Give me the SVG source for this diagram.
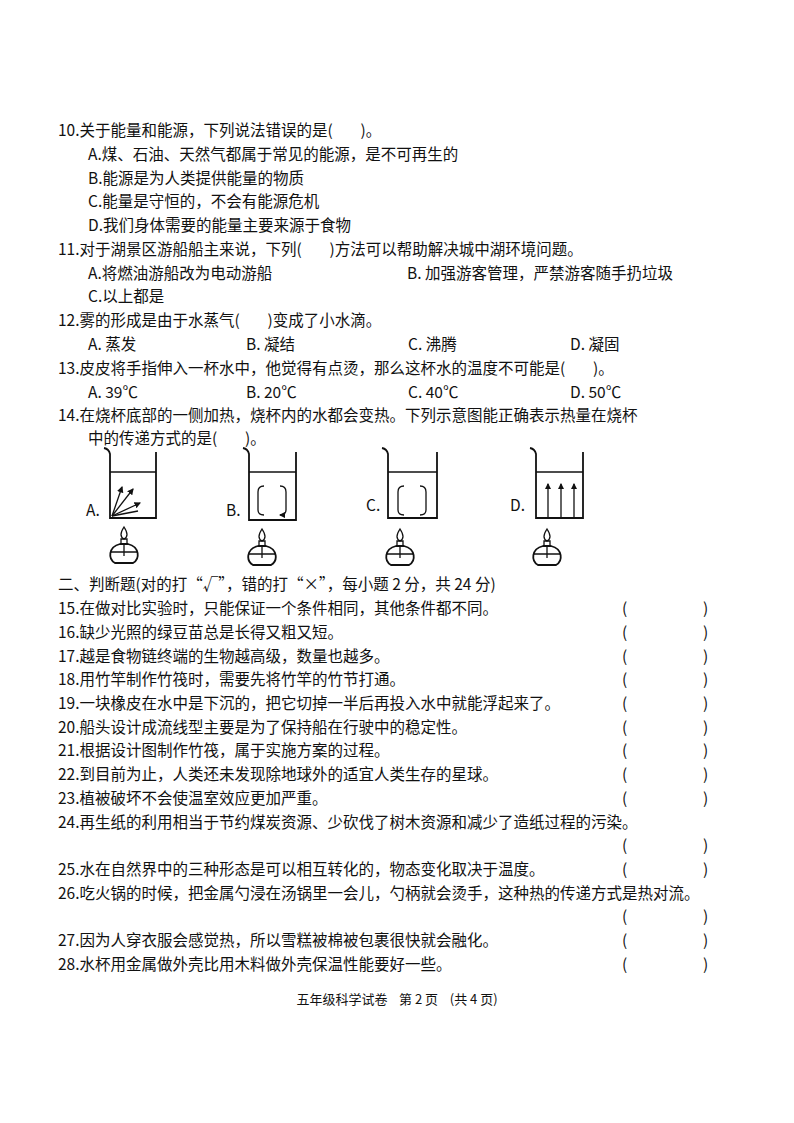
<svg xmlns="http://www.w3.org/2000/svg" width="794" height="1123" viewBox="0 0 794 1123">
<style>
text{font-family:"Noto Sans CJK SC","Liberation Serif",serif;font-size:15.5px;fill:#111;white-space:pre}
.f{font-size:13px}
.b{fill:none;stroke:#111;stroke-width:1.8}
.t{fill:none;stroke:#111;stroke-width:1.3}
</style>
<defs>
<marker id="ah" viewBox="0 0 6 6" refX="5" refY="3" markerWidth="5" markerHeight="5" orient="auto"><path d="M0,0L6,3L0,6z" fill="#111"/></marker>
</defs>
<g id="questions">
<text x="58" y="136">10.关于能量和能源，下列说法错误的是(        )。</text>
<text x="88" y="160">A.煤、石油、天然气都属于常见的能源，是不可再生的</text>
<text x="88" y="184">B.能源是为人类提供能量的物质</text>
<text x="88" y="207">C.能量是守恒的，不会有能源危机</text>
<text x="88" y="231">D.我们身体需要的能量主要来源于食物</text>
<text x="58" y="255">11.对于湖景区游船船主来说，下列(        )方法可以帮助解决城中湖环境问题。</text>
<text x="88" y="279">A.将燃油游船改为电动游船</text>
<text x="407" y="279">B. 加强游客管理，严禁游客随手扔垃圾</text>
<text x="88" y="302">C.以上都是</text>
<text x="58" y="326">12.雾的形成是由于水蒸气(        )变成了小水滴。</text>
<text x="88" y="350">A. 蒸发</text><text x="246" y="350">B. 凝结</text><text x="408" y="350">C. 沸腾</text><text x="570" y="350">D. 凝固</text>
<text x="58" y="374">13.皮皮将手指伸入一杯水中，他觉得有点烫，那么这杯水的温度不可能是(        )。</text>
<text x="88" y="398">A. 39℃</text><text x="246" y="398">B. 20℃</text><text x="408" y="398">C. 40℃</text><text x="570" y="398">D. 50℃</text>
<text x="58" y="421">14.在烧杯底部的一侧加热，烧杯内的水都会变热。下列示意图能正确表示热量在烧杯</text>
<text x="88" y="444">中的传递方式的是(        )。</text>
</g>
<g id="figA">
<path class="b" d="M104,448 Q109,449 110,454 L110,518 L156,518 L156,452"/>
<line class="t" x1="110" y1="472" x2="156" y2="472"/>
<line class="t" x1="112" y1="516" x2="122" y2="487" marker-end="url(#ah)"/>
<line class="t" x1="112" y1="516" x2="133" y2="489" marker-end="url(#ah)"/>
<line class="t" x1="112" y1="516" x2="140" y2="503" marker-end="url(#ah)"/>
<line class="t" x1="112" y1="516" x2="138" y2="511"/>
<g transform="translate(124,545)">
<path class="t" d="M0,-18 C-4,-12 -4,-8 0,-6 C4,-8 4,-12 0,-18z"/>
<path class="t" d="M-3,-6h6v5h-6z"/>
<path class="b" d="M-4,-1 C-16,2 -16,14 -9,18 L9,18 C16,14 16,2 4,-1z"/>
<path class="t" d="M-13,7h26M0,-1v12"/>
</g>
<text x="86" y="516">A.</text>
</g>
<g id="figB">
<path class="b" d="M243,448 Q248,449 249,454 L249,520 L296,520 L296,452"/>
<line class="t" x1="249" y1="472" x2="296" y2="472"/>
<path class="t" d="M264,486 Q258,486 258,492 V510 Q258,515 264,515 M280,486 Q286,486 286,492 V510 Q286,515 280,515" marker-end="url(#ah)"/>
<g transform="translate(262,547)">
<path class="t" d="M0,-18 C-4,-12 -4,-8 0,-6 C4,-8 4,-12 0,-18z"/>
<path class="t" d="M-3,-6h6v5h-6z"/>
<path class="b" d="M-4,-1 C-16,2 -16,14 -9,18 L9,18 C16,14 16,2 4,-1z"/>
<path class="t" d="M-13,7h26M0,-1v12"/>
</g>
<text x="226" y="516">B.</text>
</g>
<g id="figC">
<path class="b" d="M382,448 Q387,449 388,454 L388,518 L437,518 L437,452"/>
<line class="t" x1="388" y1="472" x2="437" y2="472"/>
<path class="t" d="M404,486 Q398,486 398,492 V510 Q398,515 404,515 M420,486 Q426,486 426,492 V510 Q426,515 420,515"/>
<g transform="translate(400,547)">
<path class="t" d="M0,-18 C-4,-12 -4,-8 0,-6 C4,-8 4,-12 0,-18z"/>
<path class="t" d="M-3,-6h6v5h-6z"/>
<path class="b" d="M-4,-1 C-16,2 -16,14 -9,18 L9,18 C16,14 16,2 4,-1z"/>
<path class="t" d="M-13,7h26M0,-1v12"/>
</g>
<text x="366" y="511">C.</text>
</g>
<g id="figD">
<path class="b" d="M530,448 Q535,449 536,454 L536,518 L583,518 L583,452"/>
<line class="t" x1="536" y1="472" x2="583" y2="472"/>
<line class="t" x1="548" y1="518" x2="548" y2="484" marker-end="url(#ah)"/>
<line class="t" x1="561" y1="518" x2="561" y2="484" marker-end="url(#ah)"/>
<line class="t" x1="574" y1="518" x2="574" y2="484" marker-end="url(#ah)"/>
<g transform="translate(547,547)">
<path class="t" d="M0,-18 C-4,-12 -4,-8 0,-6 C4,-8 4,-12 0,-18z"/>
<path class="t" d="M-3,-6h6v5h-6z"/>
<path class="b" d="M-4,-1 C-16,2 -16,14 -9,18 L9,18 C16,14 16,2 4,-1z"/>
<path class="t" d="M-13,7h26M0,-1v12"/>
</g>
<text x="510" y="511">D.</text>
</g>
<g id="judge">
<text x="58" y="590">二、判断题(对的打“√”，错的打“×”，每小题 2 分，共 24 分)</text>
<text x="58" y="614">15.在做对比实验时，只能保证一个条件相同，其他条件都不同。</text>
<text x="58" y="638">16.缺少光照的绿豆苗总是长得又粗又短。</text>
<text x="58" y="662">17.越是食物链终端的生物越高级，数量也越多。</text>
<text x="58" y="685">18.用竹竿制作竹筏时，需要先将竹竿的竹节打通。</text>
<text x="58" y="709">19.一块橡皮在水中是下沉的，把它切掉一半后再投入水中就能浮起来了。</text>
<text x="58" y="733">20.船头设计成流线型主要是为了保持船在行驶中的稳定性。</text>
<text x="58" y="756">21.根据设计图制作竹筏，属于实施方案的过程。</text>
<text x="58" y="780">22.到目前为止，人类还未发现除地球外的适宜人类生存的星球。</text>
<text x="58" y="804">23.植被破坏不会使温室效应更加严重。</text>
<text x="58" y="828">24.再生纸的利用相当于节约煤炭资源、少砍伐了树木资源和减少了造纸过程的污染。</text>
<text x="58" y="875">25.水在自然界中的三种形态是可以相互转化的，物态变化取决于温度。</text>
<text x="58" y="899">26.吃火锅的时候，把金属勺浸在汤锅里一会儿，勺柄就会烫手，这种热的传递方式是热对流。</text>
<text x="58" y="946">27.因为人穿衣服会感觉热，所以雪糕被棉被包裹很快就会融化。</text>
<text x="58" y="970">28.水杯用金属做外壳比用木料做外壳保温性能要好一些。</text>
<g>
<text x="622" y="614">(</text><text x="703" y="614">)</text>
<text x="622" y="638">(</text><text x="703" y="638">)</text>
<text x="622" y="662">(</text><text x="703" y="662">)</text>
<text x="622" y="685">(</text><text x="703" y="685">)</text>
<text x="622" y="709">(</text><text x="703" y="709">)</text>
<text x="622" y="733">(</text><text x="703" y="733">)</text>
<text x="622" y="756">(</text><text x="703" y="756">)</text>
<text x="622" y="780">(</text><text x="703" y="780">)</text>
<text x="622" y="804">(</text><text x="703" y="804">)</text>
<text x="622" y="851">(</text><text x="703" y="851">)</text>
<text x="622" y="875">(</text><text x="703" y="875">)</text>
<text x="622" y="922">(</text><text x="703" y="922">)</text>
<text x="622" y="946">(</text><text x="703" y="946">)</text>
<text x="622" y="970">(</text><text x="703" y="970">)</text>
</g>
</g>
<text class="f" x="397" y="1004" text-anchor="middle">五年级科学试卷    第 2 页    (共 4 页)</text>
</svg>
